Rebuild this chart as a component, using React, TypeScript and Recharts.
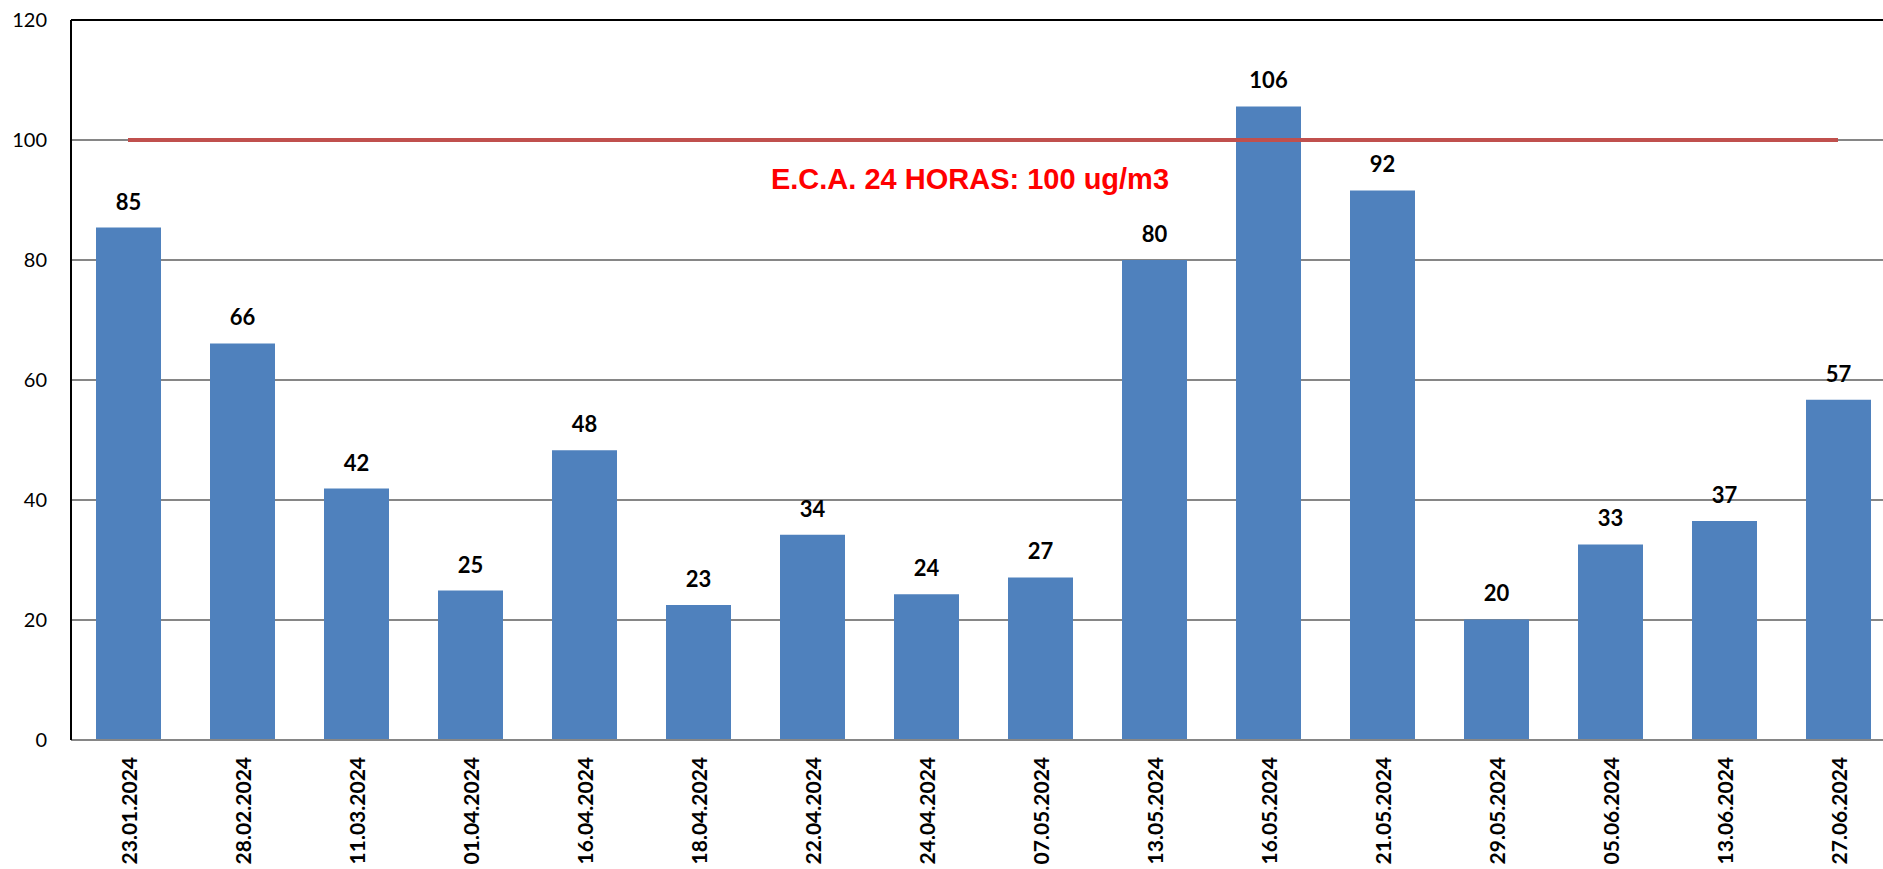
import { ComposedChart, Bar, Line, XAxis, YAxis, CartesianGrid, ReferenceLine, LabelList } from 'recharts';

const dates = [
  '23.01.2024', '28.02.2024', '11.03.2024', '01.04.2024', '16.04.2024', '18.04.2024',
  '22.04.2024', '24.04.2024', '07.05.2024', '13.05.2024', '16.05.2024', '21.05.2024',
  '29.05.2024', '05.06.2024', '13.06.2024', '27.06.2024',
];
const pm10 = [85.4, 66.1, 41.9, 24.9, 48.3, 22.5, 34.2, 24.3, 27.1, 80.0, 105.6, 91.6, 20.1, 32.6, 36.5, 56.7];
const eca = [100, 100, 100, 100, 100, 100, 100, 100, 100, 100, 100, 100, 100, 100, 100, 100];
const yTicks = [0, 20, 40, 60, 80, 100, 120];
const ecaLabel = 'E.C.A. 24 HORAS: 100 ug/m3';

const data = dates.map((d, i) => ({ date: d, pm10: pm10[i], eca: eca[i] }));

function DateTick({ x, y, payload }: any) {
  return (
    <text
      transform={`translate(${x},${y + 17}) rotate(-90)`}
      textAnchor="end"
      dominantBaseline="central"
      fontFamily="Lato"
      fontWeight="bold"
      fontSize={21}
      fill="#000"
    >
      {payload.value}
    </text>
  );
}

export default function App() {
  return (
    <div style={{ position: 'absolute', left: 0, top: 0, width: 1883, height: 869, overflow: 'hidden', background: '#fff' }}>
      <ComposedChart width={1900} height={869} data={data} margin={{ top: 20, right: 5, left: 0, bottom: 0 }}>
        <CartesianGrid vertical={false} stroke="#868686" strokeWidth={2} />
        <XAxis
          dataKey="date"
          height={129}
          interval={0}
          tickLine={false}
          tickSize={0}
          tickMargin={0}
          axisLine={{ stroke: '#868686', strokeWidth: 2 }}
          tick={<DateTick />}
        />
        <YAxis
          width={71}
          domain={[0, 120]}
          ticks={yTicks}
          tickLine={false}
          tickSize={0}
          tickMargin={24}
          axisLine={{ stroke: '#000', strokeWidth: 2 }}
          tick={{ fontFamily: 'Lato', fontSize: 20, fill: '#000' }}
        />
        <ReferenceLine y={120} stroke="#000" strokeWidth={2} />
        <Bar dataKey="pm10" fill="#4F81BD" barSize={65} isAnimationActive={false}>
          <LabelList
            dataKey="pm10"
            position="top"
            offset={18}
            formatter={(v: any) => Math.round(v)}
            style={{ fontFamily: 'Lato', fontWeight: 'bold', fontSize: 22, fill: '#000' }}
          />
        </Bar>
        <Line dataKey="eca" stroke="#C0504D" strokeWidth={4} dot={false} activeDot={false} isAnimationActive={false} />
        <ReferenceLine
          y={100}
          stroke="none"
          label={{
            value: ecaLabel,
            position: 'bottom',
            offset: 28,
            dx: -13,
            fill: '#FF0000',
            fontFamily: 'Liberation Sans',
            fontWeight: 'bold',
            fontSize: 29,
          }}
        />
      </ComposedChart>
    </div>
  );
}
